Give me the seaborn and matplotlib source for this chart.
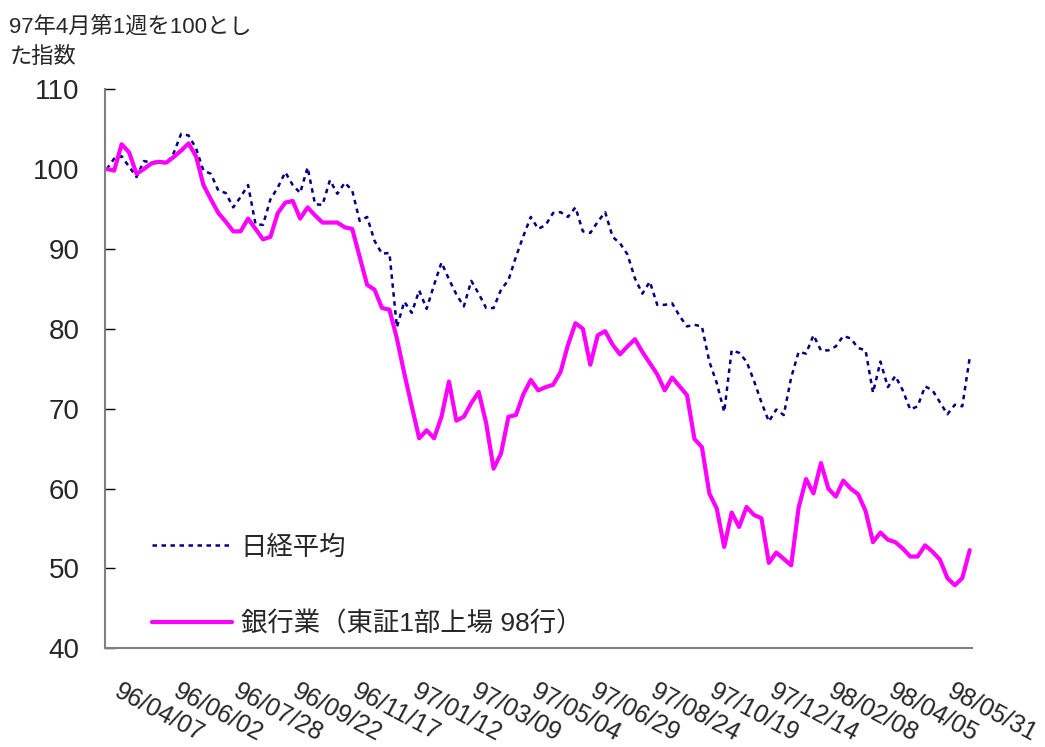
import numpy as np
import pandas as pd
import matplotlib
matplotlib.use("Agg")
import matplotlib.pyplot as plt
import seaborn as sns
from matplotlib.transforms import ScaledTranslation

# ---- data (weekly index, 97年4月第1週 = 100) ----
nikkei = [100.0, 101.3, 101.6, 100.3, 99.0, 101.0, 100.8, 101.0, 100.6, 102.0,
          104.4, 104.2, 102.6, 99.8, 99.4, 97.3, 97.0, 95.2, 96.5, 98.0,
          93.1, 93.0, 96.2, 97.7, 99.6, 98.0, 97.0, 100.2, 95.6, 95.5,
          98.6, 96.9, 98.3, 97.3, 93.5, 94.0, 91.0, 89.4, 89.5, 80.2,
          83.4, 82.0, 84.8, 82.5, 85.5, 88.3, 86.2, 84.3, 82.8, 86.0,
          84.4, 82.6, 82.6, 84.9, 86.1, 89.0, 91.6, 94.0, 92.5, 93.0,
          94.5, 94.6, 94.0, 95.2, 92.2, 92.0, 93.4, 94.6, 91.5, 90.7,
          89.3, 86.3, 84.4, 85.9, 83.0, 83.0, 83.2, 81.6, 80.3, 80.5,
          80.3, 75.9, 73.2, 69.6, 77.3, 77.0, 75.9, 73.5, 70.8, 68.4,
          69.9, 69.2, 73.9, 77.1, 76.9, 79.2, 77.3, 77.3, 77.8, 79.1,
          78.8, 77.6, 77.3, 72.0, 75.9, 72.7, 74.1, 72.3, 69.9, 70.3,
          72.8, 72.3, 70.8, 69.3, 70.5, 70.3, 76.4]

banks = [100.0, 99.8, 103.1, 102.1, 99.4, 100.0, 100.7, 100.9, 100.8, 101.5,
         102.3, 103.2, 101.6, 98.0, 96.2, 94.5, 93.4, 92.2, 92.2, 93.8,
         92.5, 91.2, 91.5, 94.5, 95.8, 96.0, 93.8, 95.2, 94.2, 93.3,
         93.3, 93.3, 92.7, 92.5, 89.0, 85.5, 84.9, 82.6, 82.4, 78.8,
         74.4, 70.3, 66.3, 67.3, 66.3, 69.0, 73.4, 68.5, 69.0, 70.7,
         72.1, 68.2, 62.5, 64.4, 69.0, 69.2, 71.8, 73.6, 72.3, 72.7,
         73.0, 74.6, 78.0, 80.7, 80.0, 75.5, 79.2, 79.7, 78.0, 76.8,
         77.8, 78.7, 77.1, 75.7, 74.3, 72.3, 73.9, 72.8, 71.7, 66.2,
         65.2, 59.4, 57.5, 52.7, 57.0, 55.2, 57.7, 56.7, 56.3, 50.7,
         52.0, 51.2, 50.4, 57.6, 61.2, 59.4, 63.2, 60.0, 59.0, 61.0,
         60.0, 59.3, 57.2, 53.3, 54.5, 53.6, 53.3, 52.5, 51.5, 51.5,
         52.9, 52.1, 51.1, 48.8, 47.9, 48.8, 52.3]

tick_labels = ["96/04/07", "96/06/02", "96/07/28", "96/09/22", "96/11/17",
               "97/01/12", "97/03/09", "97/05/04", "97/06/29", "97/08/24",
               "97/10/19", "97/12/14", "98/02/08", "98/04/05", "98/05/31"]
y_ticks = [40, 50, 60, 70, 80, 90, 100, 110]

title_text = "97年4月第1週を100とし\nた指数"
label_nikkei = "日経平均"
label_banks = "銀行業（東証1部上場 98行）"

# ---- style ----
sns.set_style("white")
plt.rcParams["font.family"] = ["Liberation Sans", "Noto Sans CJK JP", "DejaVu Sans"]

df = pd.DataFrame({"week": np.arange(len(nikkei)),
                   "nikkei": nikkei,
                   "banks": banks})

fig = plt.figure(figsize=(10.45, 7.47), dpi=100)
ax = fig.add_axes([0.1, 0.132, 0.8301, 0.7487])

sns.lineplot(data=df, x="week", y="nikkei", ax=ax, color="#000080",
             lw=1.8, label=label_nikkei)
sns.lineplot(data=df, x="week", y="banks", ax=ax, color="#FF00FF",
             lw=3.0, label=label_banks)
ax.lines[0].set_dashes((1.8, 1.8))

ax.set_xlim(-0.3, 116.3)
ax.set_ylim(40, 110)
ax.set_yticks(y_ticks)
ax.set_xlabel("")
ax.set_ylabel("")

tick_pos = list(range(0, 8 * len(tick_labels), 8))
ax.set_xticks(tick_pos)
ax.tick_params(axis="x", length=0, pad=22)
ax.tick_params(axis="y", direction="in", length=7, width=1, color="black",
               labelsize=20, pad=18, left=True)
ax.set_xticklabels(tick_labels, rotation=-28, ha="left", va="top",
                   rotation_mode="anchor", fontsize=18)
offset = ScaledTranslation(0.15, 0, fig.dpi_scale_trans)
for lab in ax.get_xticklabels():
    lab.set_transform(lab.get_transform() + offset)

for side in ["top", "right"]:
    ax.spines[side].set_visible(False)
for side in ["left", "bottom"]:
    ax.spines[side].set_color("#808080")
    ax.spines[side].set_linewidth(1.5)

ax.legend(loc="center left", bbox_to_anchor=(0.043, 0.112), frameon=False,
          fontsize=19, handlelength=3.0, handletextpad=0.35,
          labelspacing=1.95, borderaxespad=0)

fig.text(0.009, 0.978, title_text, fontsize=16, va="top", ha="left",
         linespacing=1.6)

fig.savefig("out.png", dpi=100)
